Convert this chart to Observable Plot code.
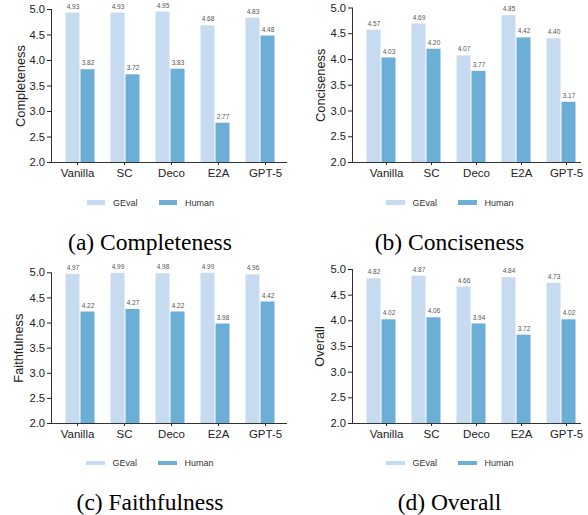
<!DOCTYPE html>
<html>
<head>
<meta charset="utf-8">
<script src="https://cdn.jsdelivr.net/npm/d3@7"></script>
<script src="https://cdn.jsdelivr.net/npm/@observablehq/plot@0.6"></script>
<style>
  html, body { margin: 0; padding: 0; background: #fff; }
  #root { position: relative; width: 588px; height: 515px; }
  .panel { position: absolute; width: 294px; height: 257px; font-family: "Liberation Sans", Arial, sans-serif; }
  .panel svg { position: absolute; left: 0; top: 0; }
  .legend { position: absolute; display: flex; align-items: center; height: 12px; font-size: 9px; color: #333; }
  .sw { width: 18.5px; height: 4.5px; margin-right: 8px; }
  .lab { margin-right: 21px; }
  .caption { position: absolute; width: 300px; text-align: center; line-height: 1; white-space: nowrap;
             font-family: "Liberation Serif", "Times New Roman", serif; font-size: 23.5px; color: #000; }
</style>
</head>
<body>
<div id="root"></div>
<script>
const models = ["Vanilla", "SC", "Deco", "E2A", "GPT-5"];
const series = ["GEval", "Human"];
const colors = ["#c6dbef", "#6baed6"];
const yTicks = [2.0, 2.5, 3.0, 3.5, 4.0, 4.5, 5.0];

const completenessGEval = [4.93, 4.93, 4.95, 4.68, 4.83];
const completenessHuman = [3.82, 3.72, 3.83, 2.77, 4.48];
const concisenessGEval  = [4.57, 4.69, 4.07, 4.85, 4.40];
const concisenessHuman  = [4.03, 4.20, 3.77, 4.42, 3.17];
const faithfulnessGEval = [4.97, 4.99, 4.98, 4.99, 4.96];
const faithfulnessHuman = [4.22, 4.27, 4.22, 3.98, 4.42];
const overallGEval      = [4.82, 4.87, 4.66, 4.84, 4.73];
const overallHuman      = [4.02, 4.06, 3.94, 3.72, 4.02];

const FONT = '"Liberation Sans", Arial, sans-serif';

const panels = [
  {metric: "Completeness", caption: "(a) Completeness", g: completenessGEval, h: completenessHuman,
   left: 0, top: 0, ml: 51, mt: 9, bottom: 162, pi: 0.3, po: 0.24, align: 0.55, lo: 31,
   legX: 86.5, legY: 202.7, capX: 150, capY: 243},
  {metric: "Conciseness", caption: "(b) Conciseness", g: concisenessGEval, h: concisenessHuman,
   left: 294, top: 0, ml: 58, mt: 7.5, bottom: 162, pi: 0.32, po: 0.176, align: 0.7, lo: 32,
   legX: 92, legY: 202.7, capX: 155.5, capY: 243},
  {metric: "Faithfulness", caption: "(c) Faithfulness", g: faithfulnessGEval, h: faithfulnessHuman,
   left: 0, top: 258, ml: 51, mt: 14.3, bottom: 165, pi: 0.3, po: 0.24, align: 0.55, lo: 32.3,
   legX: 86, legY: 205, capX: 150, capY: 245},
  {metric: "Overall", caption: "(d) Overall", g: overallGEval, h: overallHuman,
   left: 294, top: 258, ml: 58, mt: 11, bottom: 165, pi: 0.32, po: 0.176, align: 0.7, lo: 33,
   legX: 92, legY: 205, capX: 155.5, capY: 245}
];

const root = document.getElementById("root");

for (const p of panels) {
  const rows = [];
  models.forEach((m, i) => {
    rows.push({model: m, series: "GEval", value: p.g[i]});
    rows.push({model: m, series: "Human", value: p.h[i]});
  });
  const height = p.bottom + 23;

  const panel = document.createElement("div");
  panel.className = "panel";
  panel.style.left = p.left + "px";
  panel.style.top = p.top + "px";
  root.appendChild(panel);

  const bars = Plot.plot({
    width: 294, height,
    marginLeft: p.ml, marginRight: 7, marginTop: p.mt, marginBottom: 23,
    fx: {domain: models, paddingInner: p.pi, paddingOuter: p.po, align: p.align, axis: null},
    x: {domain: series, padding: 0, axis: null},
    y: {domain: [2, 5], axis: null},
    color: {domain: series, range: colors},
    style: {fontFamily: FONT, background: "transparent"},
    marks: [
      Plot.barY(rows, {fx: "model", x: "series", y1: 2, y2: "value", fill: "series", insetLeft: 0.5, insetRight: 0.5}),
      Plot.text(rows, {fx: "model", x: "series", y: "value", text: d => d.value.toFixed(2),
                       dy: -6.5, fontSize: 6.5, fill: "#555"})
    ]
  });
  panel.appendChild(bars);

  const axes = Plot.plot({
    width: 294, height,
    marginLeft: p.ml, marginRight: 7, marginTop: p.mt, marginBottom: 23,
    x: {domain: models, paddingInner: p.pi, paddingOuter: p.po, align: p.align},
    y: {domain: [2, 5]},
    style: {fontFamily: FONT, fontSize: "11.5px", color: "#222", background: "transparent"},
    marks: [
      Plot.axisY(yTicks, {tickSize: 4, tickPadding: 2.5, tickFormat: d => d.toFixed(1), label: null, fontSize: 11.2}),
      Plot.axisX(models, {tickSize: 3, tickPadding: 3, label: null, fontSize: 11.5}),
      Plot.text([p.metric], {frameAnchor: "left", textAnchor: "middle", rotate: -90, dx: -p.lo, fontSize: 12.8, fill: "#222"}),
      Plot.frame({anchor: "left", stroke: "#333"}),
      Plot.ruleY([2], {stroke: "#333"})
    ]
  });
  panel.appendChild(axes);

  const leg = document.createElement("div");
  leg.className = "legend";
  leg.style.left = p.legX + "px";
  leg.style.top = (p.legY - 6) + "px";
  series.forEach((s, i) => {
    const sw = document.createElement("span");
    sw.className = "sw";
    sw.style.background = colors[i];
    const lab = document.createElement("span");
    lab.className = "lab";
    lab.textContent = s;
    leg.appendChild(sw);
    leg.appendChild(lab);
  });
  panel.appendChild(leg);

  const cap = document.createElement("div");
  cap.className = "caption";
  cap.textContent = p.caption;
  cap.style.left = (p.capX - 150) + "px";
  cap.style.top = (p.capY - 12) + "px";
  panel.appendChild(cap);
}
</script>
</body>
</html>
